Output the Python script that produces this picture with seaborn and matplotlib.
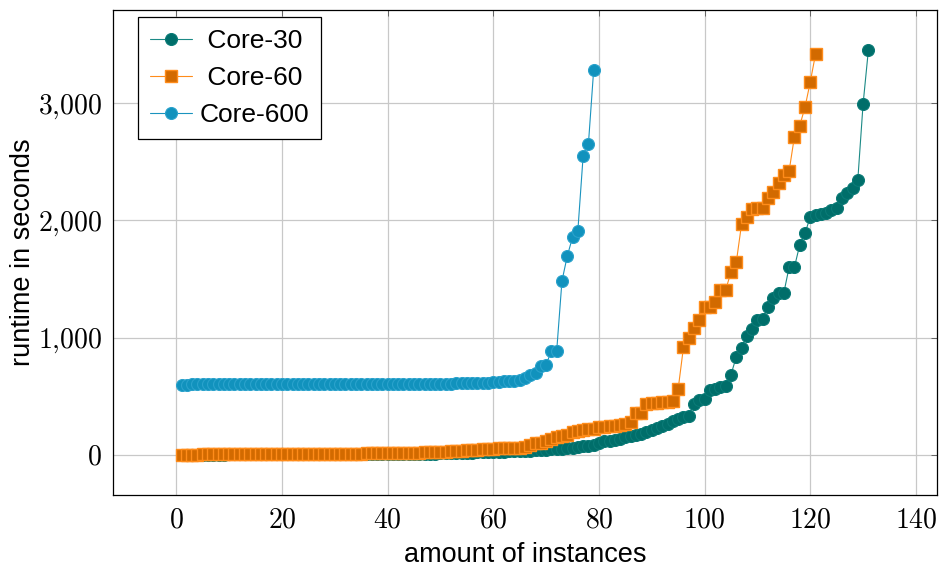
import numpy as np
import pandas as pd
import matplotlib
matplotlib.use("Agg")
import matplotlib.pyplot as plt
from matplotlib.ticker import FixedLocator, FuncFormatter
import seaborn as sns

# Sorted runtimes (seconds) per configuration
core30 = [
    0, 0, 0, 0, 0, 0, 0, 0, 0, 1,
    1, 1, 1, 1, 1, 1, 1, 1, 1, 1,
    2, 2, 2, 2, 2, 2, 2, 2, 2, 2,
    3, 3, 3, 3, 3, 3, 4, 4, 4, 4,
    5, 5, 5, 6, 6, 7, 7, 8, 9, 10,
    11, 12, 13, 14, 15, 17, 18, 20, 21, 22,
    24, 26, 27, 29, 31, 33, 35, 38, 40, 43,
    46, 49, 52,
    57, 57, 63, 71, 77, 80, 100, 114, 120, 128, 134, 148,
    157, 171, 179, 194, 214, 228, 242, 265, 285, 305, 319, 328,
    436, 464, 476, 550, 561, 578, 590, 684, 835, 912, 1017, 1074, 1148,
    1160, 1262, 1340, 1382, 1382, 1601, 1601, 1789, 1889, 2031, 2046,
    2057, 2068, 2091, 2103, 2188, 2236, 2279, 2344, 2994, 3453,
]
core60 = [
    0, 0, 0, 0, 1, 1, 1, 1, 1, 1,
    2, 2, 2, 2, 2, 3, 3, 3, 3, 3,
    4, 4, 4, 5, 5, 5, 6, 6, 6, 7,
    7, 8, 8, 9, 9, 10, 10, 11, 12, 13,
    14, 14, 15, 15, 16, 17, 18, 20, 22, 24,
    26, 28, 31, 34, 37, 40, 43, 46, 49, 52,
    55, 56, 57, 58, 60, 62,
    80, 95, 100, 115, 130, 148, 162,
    171, 191, 205, 212, 219, 222, 234, 234, 242, 242, 256,
    262, 276, 353, 356, 436, 441, 441, 447, 450, 462, 562,
    917, 997, 1083, 1148, 1262, 1265, 1305, 1405, 1410, 1558, 1644,
    1969, 2028, 2094, 2103, 2105, 2194, 2242, 2316, 2385, 2422,
    2715, 2809, 2966, 3182, 3421,
]
core600 = [
    598, 598, 599, 599, 599, 599, 599, 599, 599, 599,
    600, 600, 600, 600, 600, 600, 600, 600, 600, 600,
    600, 600, 600, 601, 601, 601, 601, 601, 601, 601,
    601, 601, 602, 602, 602, 602, 602, 602, 603, 603,
    603, 603, 604, 604, 604, 605, 605, 605, 606, 606,
    607, 607, 608, 608, 609, 610, 611, 612,
    615, 618, 622, 628, 632, 632, 641, 658, 684, 698,
    760, 769, 886, 886,
    1484, 1695, 1857, 1909, 2547, 2650, 3285,
]

series_names = [" Core-30", " Core-60", "Core-600"]
x_ticks = [0, 20, 40, 60, 80, 100, 120, 140]
y_ticks = [0, 1000, 2000, 3000]

sns.set_style("whitegrid")
plt.rcParams["font.family"] = ["Liberation Sans", "DejaVu Sans"]
plt.rcParams["mathtext.fontset"] = "cm"
plt.rcParams["text.color"] = "black"
plt.rcParams["axes.labelcolor"] = "black"

fig = plt.figure(figsize=(9.39, 5.67), dpi=100)
ax = fig.add_axes([0.1203, 0.127, 0.8776, 0.8554])

styles = [
    dict(marker="o", ms=8.6, color="#1c8a86", mfc="#006e6a", mec="#0a7a76", mew=0.8),
    dict(marker="s", ms=8.6, color="#ff8c1a", mfc="#d26a00", mec="#ff8c1a", mew=1.0),
    dict(marker="o", ms=8.6, color="#1a93be", mfc="#1192bd", mec="#2aa2cc", mew=0.8),
]

for name, vals, st in zip(series_names, [core30, core60, core600], styles):
    df = pd.DataFrame({"instance": np.arange(1, len(vals) + 1), "runtime": vals})
    sns.lineplot(
        data=df, x="instance", y="runtime", ax=ax, label=name,
        color=st["color"], linewidth=0.8, marker=st["marker"],
        markersize=st["ms"], markerfacecolor=st["mfc"],
        markeredgecolor=st["mec"], markeredgewidth=st["mew"],
    )

ax.set_xlim(-12, 144)
ax.set_ylim(-345, 3798)
ax.xaxis.set_major_locator(FixedLocator(x_ticks))
ax.yaxis.set_major_locator(FixedLocator(y_ticks))
ax.xaxis.set_major_formatter(FuncFormatter(lambda v, p: rf"${int(v)}$"))
ax.yaxis.set_major_formatter(
    FuncFormatter(lambda v, p: "$" + f"{int(v):,}".replace(",", "{,}") + "$"))

ax.grid(True, color="#c8c8c8", linewidth=0.9)
ax.set_axisbelow(True)
for sp in ax.spines.values():
    sp.set_color("black")
    sp.set_linewidth(0.9)
ax.tick_params(axis="both", which="major", direction="in", length=4,
               width=0.6, color="#555555", labelsize=20, top=True, right=True,
               labelcolor="black")
ax.tick_params(axis="x", pad=9)
ax.tick_params(axis="y", pad=8)

ax.set_xlabel("amount of instances", fontsize=19.5, labelpad=6, color="black")
ax.set_ylabel("runtime in seconds", fontsize=19.5, labelpad=1, color="black")

leg = ax.legend(loc="upper left", bbox_to_anchor=(0.030, 0.9856),
                borderaxespad=0, fontsize=19, frameon=True, fancybox=False,
                edgecolor="black", framealpha=1, handlelength=1.6,
                handletextpad=0.3, labelspacing=0.5, borderpad=0.45)
leg.get_frame().set_linewidth(0.9)
for t in leg.get_texts():
    t.set_color("black")

fig.savefig("out.png", dpi=100)
